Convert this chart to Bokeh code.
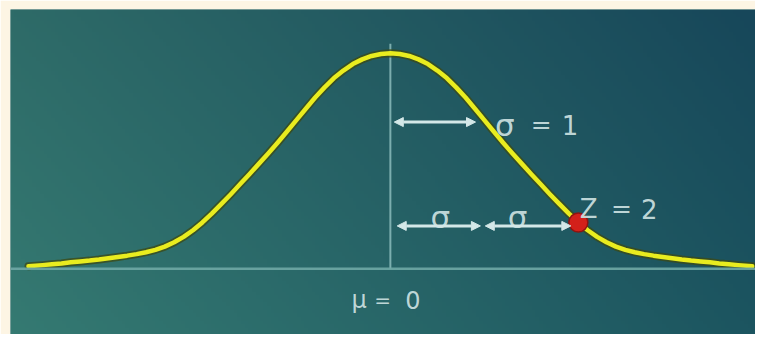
import numpy as np
from bokeh.plotting import figure
from bokeh.models import Range1d, ColumnDataSource, Arrow, NormalHead, Span
from bokeh.embed import file_html
from bokeh.resources import INLINE
from bokeh.core.properties import value

# ---------------- data ----------------
mu = 0.0
sigma = 1.0
z_score = 2.0

half_x = [0.0, 0.1, 0.2, 0.3, 0.4, 0.5, 0.6, 0.7, 0.8, 0.9,
          1.0, 1.1, 1.2, 1.3, 1.4, 1.5, 1.6, 1.7, 1.8, 1.9,
          2.0, 2.1, 2.2, 2.3, 2.4, 2.5, 2.6, 2.7, 2.8, 2.9,
          3.0, 3.1, 3.2, 3.3, 3.4, 3.5, 3.6, 3.7, 3.85]
half_y = [1.000, 0.997, 0.988, 0.972, 0.950, 0.920, 0.885, 0.842, 0.795, 0.743,
          0.690, 0.637, 0.585, 0.535, 0.487, 0.439, 0.392, 0.345, 0.300, 0.256,
          0.215, 0.179, 0.148, 0.123, 0.103, 0.088, 0.077, 0.068, 0.061, 0.055,
          0.049, 0.043, 0.038, 0.034, 0.030, 0.025, 0.021, 0.017, 0.012]

# full symmetric curve (left half mirrored)
curve_x = [-v for v in half_x[:0:-1]] + half_x
curve_y = half_y[:0:-1] + half_y

label_tokens = ["σ", "=", "1", "Z", "=", "2", "σ", "σ", "μ", "=", "0"]

# ---------------- figure ----------------
BEIGE = "#fdf5e4"
TXT = "#c8dede"
ARW = "#d4e8e8"

x0, x1 = -4.0417, 3.885
y0, y1 = -0.305, 1.2035

p = figure(width=755, height=334, output_backend="svg", toolbar_location=None,
           x_range=Range1d(x0, x1), y_range=Range1d(y0, y1),
           x_axis_location=None, y_axis_location=None,
           min_border_left=10, min_border_top=9, min_border_right=0, min_border_bottom=0)
p.border_fill_color = BEIGE
p.background_fill_color = "#24605f"
p.outline_line_color = None
p.xgrid.visible = False
p.ygrid.visible = False

# gradient background (bilinear between corner colours)
ny, nx = 90, 200
tl = np.array([46, 107, 104], float)
tr = np.array([23, 71, 90], float)
bl = np.array([53, 122, 114], float)
br = np.array([28, 85, 96], float)
tx = np.linspace(0, 1, nx)[None, :, None]
sy = np.linspace(0, 1, ny)[:, None, None]   # row 0 = bottom
bottom = bl * (1 - tx) + br * tx
top = tl * (1 - tx) + tr * tx
col = bottom * (1 - sy) + top * sy
img = np.empty((ny, nx), dtype=np.uint32)
view = img.view(dtype=np.uint8).reshape((ny, nx, 4))
view[:, :, 0:3] = np.clip(col, 0, 255).astype(np.uint8)
view[:, :, 3] = 255
p.image_rgba(image=[img], x=x0, y=y0, dw=x1 - x0, dh=y1 - y0)

# baseline and mean line
p.add_layout(Span(location=0, dimension="width", line_color="#6fa9a5", line_width=2.5, line_alpha=0.9))
p.segment(x0=[mu], y0=[0], x1=[mu], y1=[1.044], line_color="#8cbcbc", line_width=2, line_alpha=0.85)

# curve
csrc = ColumnDataSource(dict(x=curve_x, y=curve_y))
p.line("x", "y", source=csrc, line_color="#3c4a14", line_width=8, line_alpha=0.75, line_join="round", line_cap="round")
p.line("x", "y", source=csrc, line_color="#e9ec1f", line_width=4.5, line_join="round", line_cap="round")

# arrows
asrc = ColumnDataSource(dict(
    xs=[mu + 0.042 * sigma, mu + 0.073 * sigma, mu + 1.01 * sigma],
    xe=[mu + 0.906 * sigma, mu + 0.958 * sigma, mu + 1.92 * sigma],
    y=[0.681, 0.199, 0.199]))
p.add_layout(Arrow(start=NormalHead(size=9, fill_color=ARW, line_color=ARW),
                   end=NormalHead(size=9, fill_color=ARW, line_color=ARW),
                   x_start="xs", y_start="y", x_end="xe", y_end="y", source=asrc,
                   line_color=ARW, line_width=3))

# point at z = 2
z_y = curve_y[curve_x.index(z_score)]
p.scatter([z_score], [z_y], size=19, fill_color="#d3201a", line_color="#8e1410", line_width=1.5)

# labels
tsrc = ColumnDataSource(dict(
    x=[1.219, 1.604, 1.911, 2.11, 2.458, 2.755, 0.531, 1.354, -0.333, -0.083, 0.24],
    y=[0.668, 0.668, 0.668, 0.279, 0.279, 0.279, 0.239, 0.239, -0.146, -0.146, -0.146],
    text=label_tokens,
    size=["31px", "25px", "26px", "26px", "25px", "26px", "31px", "31px", "24px", "20px", "24px"]))
p.text(x="x", y="y", text="text", source=tsrc, text_font=value("DejaVu Sans"),
       text_font_size="size", text_align="center", text_baseline="alphabetic",
       text_color=TXT, text_alpha=0.95)

open("out.html", "w").write(file_html(p, INLINE))
